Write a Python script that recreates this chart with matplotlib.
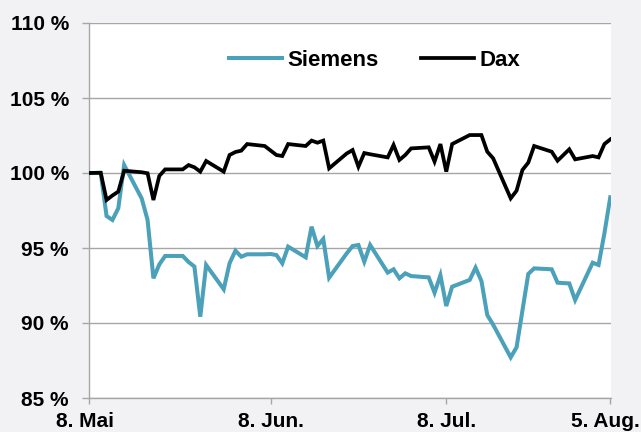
import matplotlib
matplotlib.use("Agg")
import matplotlib.pyplot as plt
import matplotlib.transforms as mtransforms
import pandas as pd

# Trading-day offsets (days after 8 May 2021)
day_offsets = [0, 2, 3, 4, 5, 6, 9, 10, 11, 12, 13, 16, 17, 18, 19, 20,
               23, 24, 25, 26, 27, 30, 31, 32, 33, 34, 37, 38, 39, 40, 41,
               44, 45, 46, 47, 48, 51, 52, 53, 54, 55, 58, 59, 60, 61, 62,
               65, 66, 67, 68, 69, 72, 73, 74, 75, 76, 79, 80, 81, 82, 83,
               86, 87, 88, 89]

siemens = [100.0, 100.0, 97.13, 96.87, 97.65, 100.53, 98.3, 96.87, 92.98, 93.9, 94.47,
           94.47, 94.07, 93.76, 90.42, 93.87,
           92.25, 93.98, 94.82, 94.42, 94.58, 94.58, 94.6, 94.53, 93.98, 95.09,
           94.38, 96.42, 95.13, 95.6, 93.02,
           94.64, 95.13, 95.2, 94.09, 95.2, 93.36, 93.58, 92.98, 93.31, 93.13,
           93.04, 92.02, 93.18, 91.13, 92.42,
           92.87, 93.69, 92.8, 90.53, 89.89, 87.71, 88.38, 90.82, 93.27, 93.64,
           93.58, 92.69, 92.66, 92.64, 91.53,
           94.02, 93.87, 95.98, 98.38]

dax = [100.0, 100.02, 98.2, 98.5, 98.76, 100.15, 100.05, 99.98, 98.2, 99.8, 100.24,
       100.24, 100.53, 100.38, 100.09, 100.8,
       100.09, 101.2, 101.4, 101.49, 101.93, 101.8, 101.5, 101.2, 101.13, 101.93,
       101.8, 102.16, 102.02, 102.16, 100.31,
       101.3, 101.53, 100.42, 101.33, 101.25, 101.04, 101.87, 100.87, 101.2, 101.64,
       101.71, 100.76, 101.93, 100.09, 101.93,
       102.53, 102.53, 102.53, 101.42, 100.98, 98.31, 98.82, 100.2, 100.69, 101.8,
       101.42, 100.82, 101.2, 101.58, 100.91,
       101.13, 101.04, 101.93, 102.24]

tick_dates = ["2021-05-08", "2021-06-08", "2021-07-08", "2021-08-05"]
tick_labels = ["8. Mai", "8. Jun.", "8. Jul.", "5. Aug."]
y_ticks = [85, 90, 95, 100, 105, 110]
y_labels = ["85 %", "90 %", "95 %", "100 %", "105 %", "110 %"]

start = pd.Timestamp("2021-05-08")
dates = [start + pd.Timedelta(days=d) for d in day_offsets]

FONT = "Liberation Sans"
BG = "#F2F2F4"
GRID = "#A6A6A6"
SIEMENS_C = "#4BA0BA"

fig = plt.figure(figsize=(6.41, 4.32), dpi=100, facecolor=BG)
ax = fig.add_axes([89/641, 1 - 398/432, (611-89)/641, (398-23)/432])
ax.set_facecolor("white")

ax.plot(dates, siemens, color=SIEMENS_C, lw=2.9, label="Siemens",
        solid_joinstyle="miter", zorder=3)
ax.plot(dates, dax, color="black", lw=2.7, label="Dax",
        solid_joinstyle="miter", zorder=4)

ax.set_ylim(85, 110)
ax.set_yticks(y_ticks)
ax.set_yticklabels(y_labels)
ax.yaxis.grid(True, color=GRID, lw=1.0)
ax.set_axisbelow(True)

tdates = [pd.Timestamp(d) for d in tick_dates]
ax.set_xlim(tdates[0], tdates[-1] + pd.Timedelta(hours=3))
ax.set_xticks(tdates)
ax.set_xticklabels(tick_labels)

for s in ["top", "right"]:
    ax.spines[s].set_visible(False)
ax.spines["left"].set_color(GRID)
ax.spines["bottom"].set_color(GRID)
ax.spines["left"].set_linewidth(1.0)
ax.spines["bottom"].set_linewidth(1.0)

ax.tick_params(axis="y", length=5, width=1.0, color=GRID, pad=9.5)
ax.tick_params(axis="x", length=4, width=1.0, color=GRID, pad=6)
for lab in ax.get_yticklabels() + ax.get_xticklabels():
    lab.set_fontfamily(FONT)
    lab.set_fontweight("bold")
    lab.set_fontsize(15)
    lab.set_color("black")

xl = ax.get_xticklabels()
xl[0].set_transform(xl[0].get_transform() + mtransforms.ScaledTranslation(-4/100, 0, fig.dpi_scale_trans))
xl[-1].set_transform(xl[-1].get_transform() + mtransforms.ScaledTranslation(-5/100, 0, fig.dpi_scale_trans))

leg = ax.legend(loc="center", bbox_to_anchor=(0.547, 0.901), ncol=2, frameon=False,
                prop={"family": FONT, "weight": "bold", "size": 16},
                handlelength=2.4, handletextpad=0.25, columnspacing=1.9)

fig.savefig("out.png", dpi=100, facecolor=BG)
